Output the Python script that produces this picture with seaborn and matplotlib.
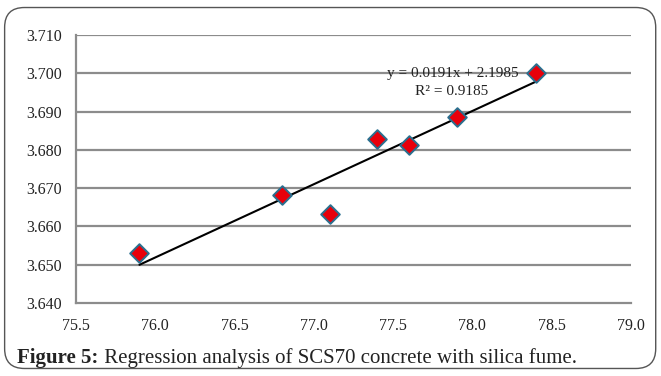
import numpy as np
import pandas as pd
import seaborn as sns
import matplotlib.pyplot as plt
from matplotlib.patches import FancyBboxPatch

# data
ultrasonic = [75.9, 76.8, 77.1, 77.4, 77.6, 77.9, 78.4]
density = [3.6530, 3.6683, 3.6633, 3.6828, 3.6813, 3.6885, 3.7002]
x_ticks = [75.5, 76.0, 76.5, 77.0, 77.5, 78.0, 78.5, 79.0]
y_ticks = [3.640, 3.650, 3.660, 3.670, 3.680, 3.690, 3.700, 3.710]
eq_text = "y = 0.0191x + 2.1985"
r2_text = "R² = 0.9185"
caption_bold = "Figure 5:"
caption_rest = " Regression analysis of SCS70 concrete with silica fume."

sns.set_style("white")
plt.rcParams['font.family'] = ['Liberation Serif', 'DejaVu Serif']

df = pd.DataFrame({"x": ultrasonic, "y": density})
slope, intercept = np.polyfit(df["x"], df["y"], 1)
trend = pd.DataFrame({"x": [min(ultrasonic), max(ultrasonic)]})
trend["y"] = slope * trend["x"] + intercept

fig = plt.figure(figsize=(6.61, 3.76), dpi=100)
ax = fig.add_axes([0.115, 0.194, 0.8396, 0.713])

grid_col = "#8c8c8c"
for yv in y_ticks[1:]:
    ax.axhline(yv, color=grid_col, lw=1.6, zorder=1)

sns.lineplot(data=trend, x="x", y="y", ax=ax, color="black", lw=1.5, zorder=2)
sns.scatterplot(data=df, x="x", y="y", ax=ax, marker="D", s=90,
                color="#e8000b", edgecolor="#2a6f8f", linewidth=1.4, zorder=3)

ax.set_xlim(x_ticks[0], x_ticks[-1])
ax.set_ylim(y_ticks[0], y_ticks[-1])
ax.set_xticks(x_ticks)
ax.set_yticks(y_ticks)
ax.set_xticklabels([f"{v:.1f}" for v in x_ticks])
ax.set_yticklabels([f"{v:.3f}" for v in y_ticks])
ax.set_xlabel("")
ax.set_ylabel("")
ax.tick_params(axis="both", labelsize=11.5, length=5, width=1.2, color=grid_col,
               direction="out", labelcolor="#222222")
ax.tick_params(axis="x", pad=6)
ax.tick_params(axis="y", pad=5)
for side in ["top", "right"]:
    ax.spines[side].set_visible(False)
for side in ["left", "bottom"]:
    ax.spines[side].set_color(grid_col)
    ax.spines[side].set_linewidth(1.6)
ax.set_facecolor("none")

ax.text(78.29, 3.7, eq_text, fontsize=11, ha="right", va="center", color="#222222", zorder=4)
ax.text(78.10, 3.6952, r2_text, fontsize=11, ha="right", va="center", color="#222222", zorder=4)

# rounded frame and caption
frame = FancyBboxPatch((0.007, 0.02), 0.985, 0.96, boxstyle="round,pad=0,rounding_size=0.03",
                       transform=fig.transFigure, fill=False, ec="#555555", lw=1.0,
                       mutation_aspect=661 / 376)
fig.patches.append(frame)
t1 = fig.text(0.026, 0.035, caption_bold, fontsize=15, fontweight="bold", color="#222222")
fig.canvas.draw()
bb = t1.get_window_extent()
fig.text(bb.x1 / fig.bbox.width, 0.035, caption_rest, fontsize=15, color="#222222")

fig.savefig("out.png", dpi=100)
